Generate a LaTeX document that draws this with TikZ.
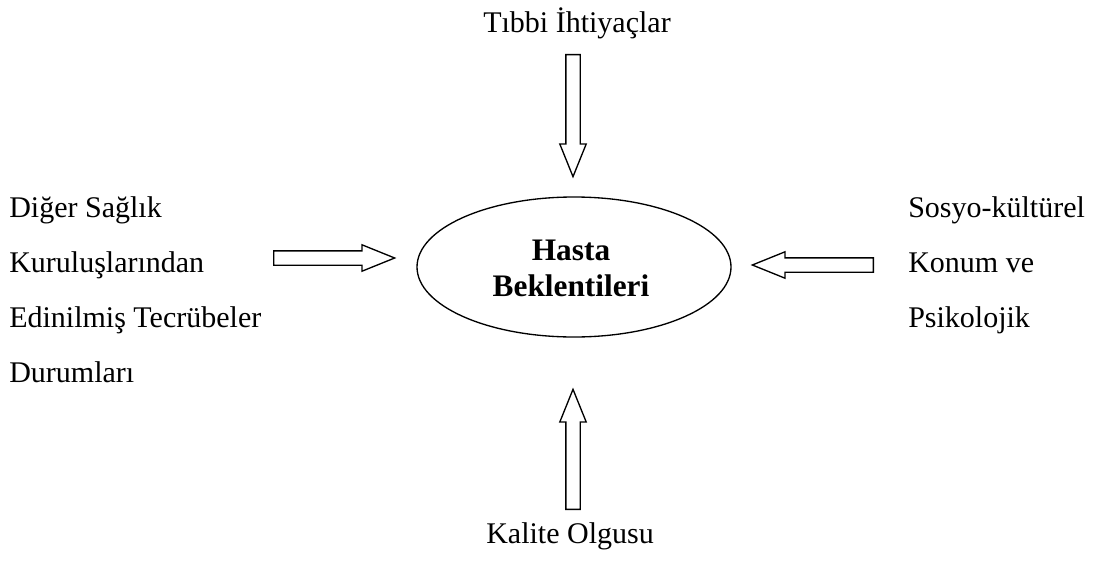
\documentclass[tikz,border=0pt]{standalone}
\usepackage{fontspec}
\setmainfont{Liberation Serif}
\usepackage{tikz}
\usetikzlibrary{shapes.geometric, shapes.arrows, positioning}

\begin{document}
\begin{tikzpicture}[x=0.75pt, y=-0.75pt,
        font=\fontsize{22.5pt}{27pt}\selectfont,
        txt/.style={inner sep=0pt, anchor=base west},
        mid/.style={inner sep=0pt, anchor=base},
        kutu/.style={draw, line width=1pt, single arrow, inner xsep=0pt, inner ysep=4.875pt,
            single arrow head extend=4.5pt, single arrow tip angle=44, anchor=tail},
        merkez/.style={draw, line width=1pt, ellipse, minimum width=235.5pt, minimum height=105pt}]
        \useasboundingbox (0,0) rectangle (1105,560);
        % merkez
        \node[merkez] (hb) at (574,267) {};
        \node[align=center, inner sep=0pt, font=\bfseries\fontsize{23.5pt}{27pt}\selectfont]
            (hbyazi) at (571,268) {Hasta\\Beklentileri};
        % ust ve alt
        \node[mid] (tibbi)  at (577,33)  {Tıbbi İhtiyaçlar};
        \node[mid] (kalite) at (570,543) {Kalite Olgusu};
        % sol
        \node[txt] (sol1) at (9,217) {Diğer Sağlık};
        \node[txt] (sol2) at (9,272) {Kuruluşlarından};
        \node[txt] (sol3) at (9,327) {Edinilmiş Tecrübeler};
        \node[txt] (sol4) at (9,382) {Durumları};
        % sag
        \node[txt] (sag1) at (908,217) {Sosyo-kültürel};
        \node[txt] (sag2) at (908,272) {Konum ve};
        \node[txt] (sag3) at (908,327) {Psikolojik};
        % oklar
        \node[kutu, minimum height=91.5pt, rotate=-90] (okust) at (573,54)  {};
        \node[kutu, minimum height=90pt,   rotate=90]  (okalt) at (573,510) {};
        \node[kutu, minimum height=90.75pt]            (oksol) at (273,258) {};
        \node[kutu, minimum height=90.75pt, rotate=180] (oksag) at (874,265) {};
    \end{tikzpicture}
\end{document}
